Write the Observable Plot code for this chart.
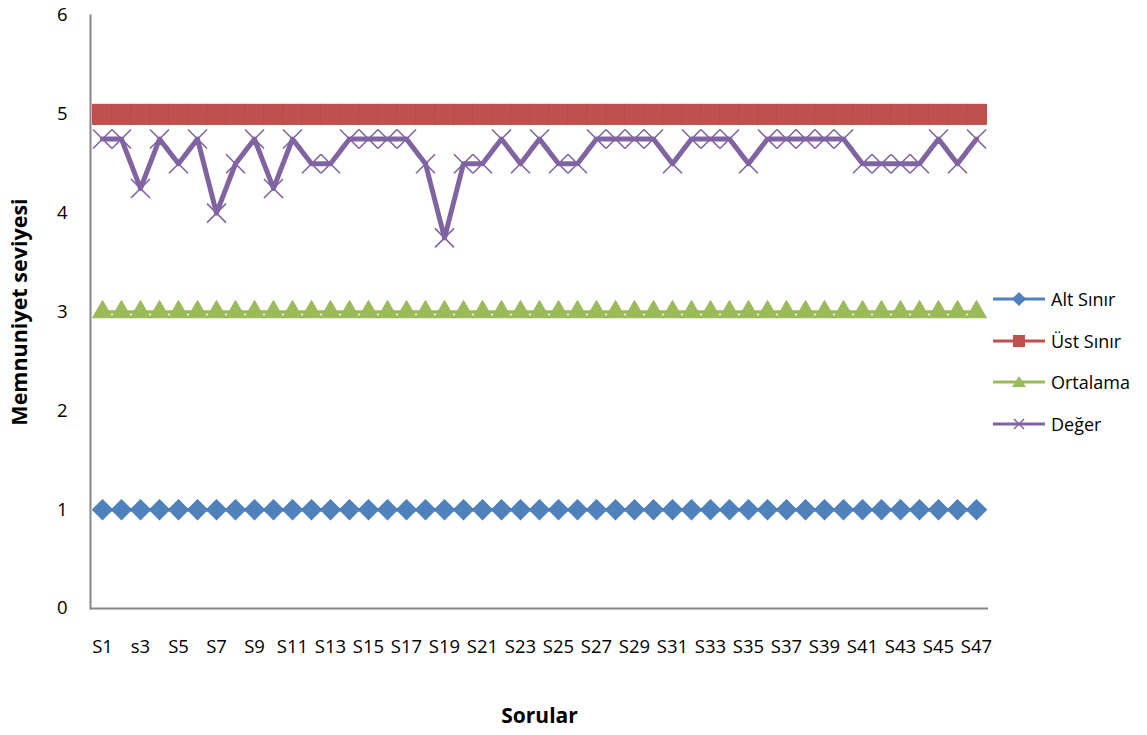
<!DOCTYPE html>
<html>
<head>
<meta charset="utf-8">
<script src="https://cdn.jsdelivr.net/npm/d3@7"></script>
<script src="https://cdn.jsdelivr.net/npm/@observablehq/plot@0.6"></script>
<style>
  html, body { margin: 0; padding: 0; background: #fff; }
  #wrap { position: relative; width: 1147px; height: 735px; font-family: "Open Sans", sans-serif; }
  #legend { position: absolute; left: 993px; top: 278px; }
  .item { display: flex; align-items: center; height: 41.7px; font-size: 18px; color: #000; }
  .item svg { margin-right: 6px; }
</style>
</head>
<body>
<div id="wrap"><div id="legend"></div></div>
<script>
const categories = ["S1","S2","s3","S4","S5","S6","S7","S8","S9","S10","S11","S12","S13","S14","S15","S16","S17","S18","S19","S20","S21","S22","S23","S24","S25","S26","S27","S28","S29","S30","S31","S32","S33","S34","S35","S36","S37","S38","S39","S40","S41","S42","S43","S44","S45","S46","S47"];
const altSinir = [1,1,1,1,1,1,1,1,1,1,1,1,1,1,1,1,1,1,1,1,1,1,1,1,1,1,1,1,1,1,1,1,1,1,1,1,1,1,1,1,1,1,1,1,1,1,1];
const ustSinir = [5,5,5,5,5,5,5,5,5,5,5,5,5,5,5,5,5,5,5,5,5,5,5,5,5,5,5,5,5,5,5,5,5,5,5,5,5,5,5,5,5,5,5,5,5,5,5];
const ortalama = [3,3,3,3,3,3,3,3,3,3,3,3,3,3,3,3,3,3,3,3,3,3,3,3,3,3,3,3,3,3,3,3,3,3,3,3,3,3,3,3,3,3,3,3,3,3,3];
const deger = [4.75,4.75,4.25,4.75,4.5,4.75,4.0,4.5,4.75,4.25,4.75,4.5,4.5,4.75,4.75,4.75,4.75,4.5,3.75,4.5,4.5,4.75,4.5,4.75,4.5,4.5,4.75,4.75,4.75,4.75,4.5,4.75,4.75,4.75,4.5,4.75,4.75,4.75,4.75,4.75,4.5,4.5,4.5,4.5,4.75,4.5,4.75];
const yTicks = [0,1,2,3,4,5,6];
const seriesNames = ["Alt Sınır","Üst Sınır","Ortalama","Değer"];
const colors = ["#4F81BD","#C0504D","#9BBB59","#8064A2"];
const xTitle = "Sorular";
const yTitle = "Memnuniyet seviyesi";

const table = vals => categories.map((c, i) => ({q: c, v: vals[i]}));
const alt = table(altSinir), ust = table(ustSinir), ort = table(ortalama), deg = table(deger);
const xTicks = categories.filter((d, i) => i % 2 === 0);

const chart = Plot.plot({
  width: 1147,
  height: 735,
  marginLeft: 90,
  marginRight: 159,
  marginTop: 15,
  marginBottom: 127,
  style: {fontFamily: "Open Sans, sans-serif", fontSize: "18.5px", color: "#000", background: "#fff", overflow: "visible"},
  x: {type: "point", domain: categories, padding: 0.5},
  y: {domain: [0, 6]},
  marks: [
    Plot.axisX({ticks: xTicks, tickSize: 0, tickPadding: 31, label: null, fontSize: 18.5}),
    Plot.axisY({ticks: yTicks, tickSize: 0, tickPadding: 23, tickFormat: d3.format("d"), label: null, fontSize: 18.5}),
    Plot.ruleY([0], {stroke: "#868686", strokeWidth: 2}),
    Plot.frame({anchor: "left", stroke: "#868686", strokeWidth: 2}),
    Plot.lineY(alt, {x: "q", y: "v", stroke: colors[0], strokeWidth: 3.5}),
    Plot.dot(alt, {x: "q", y: "v", symbol: "square", rotate: 45, r: 8, fill: colors[0], stroke: "#4A7EBB", strokeWidth: 1}),
    Plot.lineY(ust, {x: "q", y: "v", stroke: colors[1], strokeWidth: 3.5}),
    Plot.dot(ust, {x: "q", y: "v", symbol: "square", r: 11.3, fill: colors[1], stroke: "#B94A47", strokeWidth: 1}),
    Plot.lineY(ort, {x: "q", y: "v", stroke: colors[2], strokeWidth: 3.5}),
    Plot.dot(ort, {x: "q", y: "v", symbol: "triangle", r: 7.4, fill: colors[2], stroke: "#98B954", strokeWidth: 1}),
    Plot.lineY(deg, {x: "q", y: "v", stroke: colors[3], strokeWidth: 5}),
    Plot.dot(deg, {x: "q", y: "v", symbol: "times", r: 8.7, fill: "none", stroke: colors[3], strokeWidth: 1.6}),
    Plot.text([xTitle], {frameAnchor: "bottom", textAnchor: "middle", dy: 114, fontWeight: "bold", fontSize: 21, fill: "#000"}),
    Plot.text([yTitle], {frameAnchor: "left", textAnchor: "middle", dx: -70, rotate: -90, fontWeight: "bold", fontSize: 21.5, fill: "#000"})
  ]
});
document.getElementById("wrap").prepend(chart);

// legend
const symbols = [
  '<rect x="21" y="3" width="10" height="10" transform="rotate(45 26 8)" fill="#4F81BD"/>',
  '<rect x="20" y="2" width="12" height="12" fill="#C0504D"/>',
  '<path d="M26,2 L33,13 L19,13 Z" fill="#9BBB59"/>',
  '<path d="M21,3 L31,13 M31,3 L21,13" stroke="#8064A2" stroke-width="1.5"/>'
];
const legend = d3.select("#legend");
seriesNames.forEach((name, i) => {
  const it = legend.append("div").attr("class", "item");
  it.append("svg").attr("width", 52).attr("height", 16)
    .html(`<line x1="0" x2="52" y1="8" y2="8" stroke="${colors[i]}" stroke-width="3"/>` + symbols[i]);
  it.append("span").text(name);
});
</script>
</body>
</html>
